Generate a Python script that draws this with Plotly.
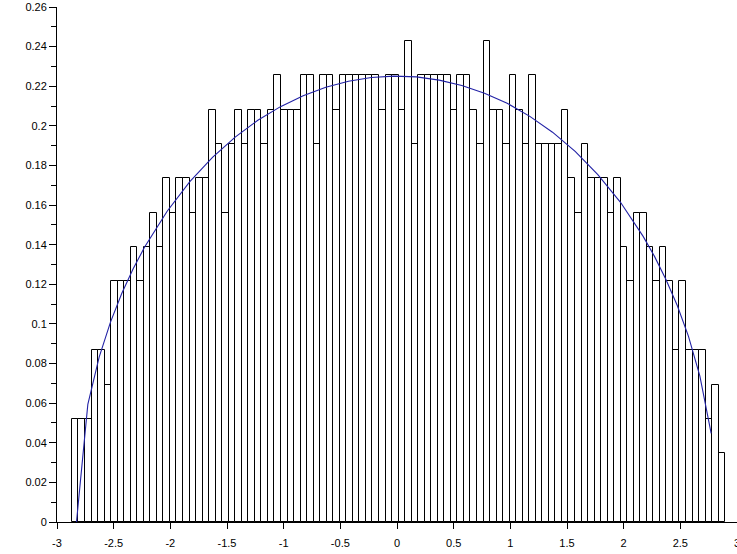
import numpy as np
import plotly.graph_objects as go

# ---- data ----
bin_counts = [3, 3, 3, 5, 5, 4, 7, 7, 7, 8, 7, 8, 9, 8, 10, 9, 10, 10, 9, 10,
              10, 12, 11, 9, 11, 12, 11, 12, 12, 11, 12, 13, 12, 12, 12, 13, 13, 11, 13, 13,
              12, 13, 13, 13, 13, 13, 13, 12, 13, 13, 12, 14, 11, 13, 13, 13, 13, 13, 12, 13,
              13, 12, 11, 14, 12, 12, 11, 13, 12, 11, 13, 11, 11, 11, 11, 12, 10, 9, 11, 10,
              10, 10, 9, 10, 8, 7, 9, 9, 8, 7, 8, 7, 5, 7, 5, 5, 5, 3, 4, 2]
n_samples = 1000
data_min = -2.868
data_max = 2.896

curve_x = [-2.828, -2.728, -2.628, -2.528, -2.428, -2.328, -2.228, -2.028, -1.828, -1.628,
           -1.428, -1.228, -1.028, -0.828, -0.628, -0.428, -0.228, -0.028, 0.172, 0.372,
           0.572, 0.772, 0.972, 1.172, 1.372, 1.572, 1.772, 1.972, 2.172, 2.272, 2.372,
           2.472, 2.572, 2.672, 2.772]
curve_y = [0.0, 0.0594, 0.0832, 0.1009, 0.1155, 0.1278, 0.1387, 0.1569, 0.1718, 0.1841,
           0.1943, 0.2028, 0.2097, 0.2152, 0.2195, 0.2225, 0.2244, 0.2251, 0.2247, 0.2231,
           0.2204, 0.2165, 0.2114, 0.2048, 0.1968, 0.1871, 0.1754, 0.1614, 0.1442, 0.1341, 0.1226,
           0.1094, 0.0937, 0.0738, 0.0447]

x_tick_values = [-3, -2.5, -2, -1.5, -1, -0.5, 0, 0.5, 1, 1.5, 2, 2.5, 3]
x_tick_labels = ["-3", "-2.5", "-2", "-1.5", "-1", "-0.5", "0", "0.5", "1", "1.5", "2", "2.5", "3"]
y_tick_values = [0, 0.02, 0.04, 0.06, 0.08, 0.1, 0.12, 0.14, 0.16, 0.18, 0.2, 0.22, 0.24, 0.26]
y_tick_labels = ["0", "0.02", "0.04", "0.06", "0.08", "0.1", "0.12", "0.14", "0.16", "0.18",
                 "0.2", "0.22", "0.24", "0.26"]
y_minor_values = [0.01, 0.03, 0.05, 0.07, 0.09, 0.11, 0.13, 0.15, 0.17, 0.19, 0.21, 0.23, 0.25]

# ---- histogram geometry (normalised like histplot) ----
n_bins = len(bin_counts)
edges = np.linspace(data_min, data_max, n_bins + 1)
bw = edges[1] - edges[0]
centers = (edges[:-1] + edges[1:]) / 2
heights = np.array(bin_counts) / (n_samples * bw)

fig = go.Figure()
fig.add_trace(go.Bar(
    x=centers, y=heights, width=bw,
    marker=dict(color="rgba(255,255,255,0)", line=dict(color="black", width=1)),
    showlegend=False, hoverinfo="x+y",
))
fig.add_trace(go.Scatter(
    x=curve_x, y=curve_y, mode="lines",
    line=dict(color="#2222a6", width=1.1),
    showlegend=False,
))

font = dict(family="Liberation Sans, Arial, sans-serif", size=11, color="black")
fig.update_layout(
    width=737, height=554,
    margin=dict(l=57, r=0, t=7, b=32, autoexpand=False),
    paper_bgcolor="white", plot_bgcolor="white",
    font=font, bargap=0,
    xaxis=dict(
        range=[-3, 3], tickmode="array", tickvals=x_tick_values, ticktext=x_tick_labels,
        showline=True, linecolor="black", linewidth=1, ticks="outside", ticklen=6,
        tickcolor="black", showgrid=False, zeroline=False, tickfont=font,
        ticklabelstandoff=5, automargin=False, ticklabeloverflow="allow",
    ),
    yaxis=dict(
        range=[0, 0.26], tickmode="array", tickvals=y_tick_values, ticktext=y_tick_labels,
        showline=True, linecolor="black", linewidth=1, ticks="outside", ticklen=7,
        tickcolor="black", showgrid=False, zeroline=False, tickfont=font,
        automargin=False, ticklabeloverflow="allow",
        minor=dict(tickmode="array", tickvals=y_minor_values, ticks="outside", ticklen=5,
                   tickcolor="black", showgrid=False),
    ),
)

fig.write_html("out.html",
               config={"displayModeBar": False},
               post_script="document.body.style.margin='0';document.body.style.overflow='hidden';")
